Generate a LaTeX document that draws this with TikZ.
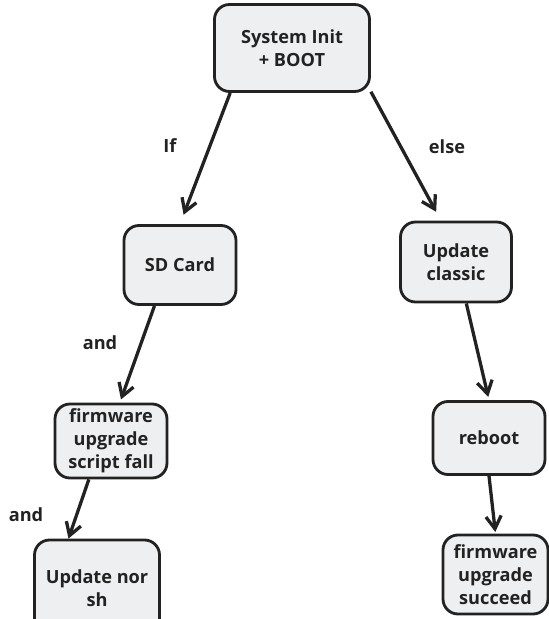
\documentclass[tikz,border=0pt]{standalone}
\usepackage{fontspec}
\setmainfont{Open Sans}
\usepackage{xcolor}
\usepackage{tikz}
\usetikzlibrary{arrows.meta}
\definecolor{boxfill}{HTML}{EEEFF1}
\definecolor{ink}{HTML}{222222}
\tikzset{
  %---------------------------------------%
  %  Flow boxes                           %
  %---------------------------------------%
  % Box for every step of the flow
  box_step/.style={
    rectangle,
    rounded corners=0.45cm,
    align=center,
    draw=ink,
    line width=2.4pt,
    fill=boxfill,
    font=\fontsize{15.5}{19.5}\selectfont\bfseries,
    text=ink
  },
  % Branch labels
  branch_lbl/.style={
    font=\fontsize{15.5}{19.5}\selectfont\bfseries,
    text=ink
  },
  %----------------%
  %     Arrows     %
  %----------------%
  arrow/.style={draw=ink,line width=2.8pt,-{Straight Barb[length=3.8mm,width=4.6mm]}},
}

\begin{document}
\begin{tikzpicture}[x=0.03cm, y=-0.03cm]
    \useasboundingbox (0,0) rectangle (548,619);
    %------------------%
    %  Start           %
    %------------------%
    \node (sys) [box_step, minimum width=4.65cm, minimum height=2.61cm] at (292, 48) {System Init\\+ BOOT};

    %-----------------------%
    %  Left branch          %
    %-----------------------%
    % SD card
    \node (sd) [box_step, minimum width=3.36cm, minimum height=2.37cm] at (180, 265) {SD Card};
    % Script fall
    \node (fwfall) [box_step, minimum width=3.36cm, minimum height=2.22cm] at (111, 441) {firmware\\upgrade\\script fall};
    % Update nor
    \node (updnor) [box_step, minimum width=3.75cm, minimum height=2.88cm] at (97, 588) {Update nor\\sh};

    %-----------------------%
    %  Right branch         %
    %-----------------------%
    % Update classic
    \node (updcls) [box_step, minimum width=3.33cm, minimum height=2.4cm] at (456, 262) {Update\\classic};
    % Reboot
    \node (reboot) [box_step, minimum width=3.36cm, minimum height=2.19cm] at (489, 438) {reboot};
    % Succeed
    \node (fwok) [box_step, minimum width=3.15cm, minimum height=2.37cm] at (495.5, 574.5) {firmware\\upgrade\\succeed};

    %----------%
    %  Labels  %
    %----------%
    \node (lif) [branch_lbl] at (170, 146) {If};
    \node (lelse) [branch_lbl] at (447, 147) {else};
    \node (land1) [branch_lbl] at (100, 343) {and};
    \node (land2) [branch_lbl] at (26, 515) {and};

    %----------%
    %  Arrows  %
    %----------%
    % Start --> SD card
    \draw [arrow, shorten >=0.3cm] (sys.216) -- (sd.north);
    % Start --> Update classic
    \draw [arrow, shorten >=0.3cm] (sys.331) -- (updcls.110);

    % SD card --> Script fall
    \draw [arrow, shorten >=0.1cm] (sd.238) -- (fwfall.77);
    % Script fall --> Update nor
    \draw [arrow] (fwfall.240) -- (updnor.120);

    % Update classic --> Reboot
    \draw [arrow, shorten >=0.1cm] (updcls.284) -- (reboot.north);
    % Reboot --> Succeed
    \draw [arrow, shorten >=0.05cm] (reboot.south) -- (fwok.north);
\end{tikzpicture}
\end{document}
